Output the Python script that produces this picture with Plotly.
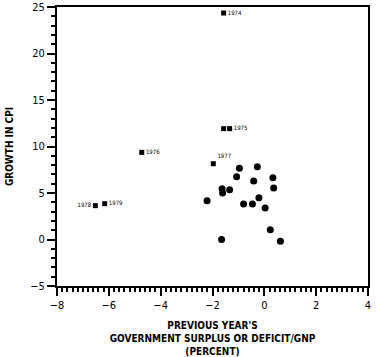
import plotly.graph_objects as go

# Unlabeled observations (deficit/GNP %, CPI growth %)
deficit = [-2.21, -1.65, -1.63, -1.61, -1.34, -1.07, -0.96, -0.80, -0.46, -0.41,
           -0.27, -0.21, 0.03, 0.23, 0.33, 0.36, 0.62]
cpi = [4.18, 0.0, 5.47, 5.0, 5.36, 6.76, 7.65, 3.82, 3.82, 6.29,
       7.83, 4.50, 3.39, 1.06, 6.65, 5.54, -0.2]

# Labeled years
year_labels = ["1974", "", "1975", "1976", "1977", "1978", "1979"]
year_deficit = [-1.57, -1.57, -1.34, -4.73, -1.97, -6.52, -6.16]
year_cpi = [24.35, 11.92, 11.92, 9.37, 8.15, 3.64, 3.85]
year_pos = ["middle right", "middle right", "middle right", "middle right",
            "top right", "middle left", "middle right"]

X_RANGE = [-8, 4]
Y_RANGE = [-5, 25]

fig = go.Figure()
fig.add_trace(go.Scatter(
    x=deficit, y=cpi, mode="markers",
    marker=dict(color="black", size=7),
    showlegend=False, hoverinfo="skip"))
fig.add_trace(go.Scatter(
    x=year_deficit, y=year_cpi, mode="markers+text",
    text=year_labels, textposition=year_pos,
    textfont=dict(family="DejaVu Sans Condensed", size=6, color="black"),
    marker=dict(color="black", size=5, symbol="square"),
    showlegend=False, hoverinfo="skip"))

fig.update_layout(
    width=376, height=357,
    margin=dict(l=57, r=8, t=7, b=71, autoexpand=False),
    plot_bgcolor="white", paper_bgcolor="white",
    xaxis=dict(
        range=X_RANGE, dtick=2, tick0=-8, gridcolor="white",
        showline=True, linecolor="black", linewidth=2, mirror=True,
        ticks="outside", ticklen=8, tickwidth=2, tickcolor="black",
        tickfont=dict(size=11, family="DejaVu Sans Condensed", color="black"),
        minor=dict(dtick=0.2, ticks="outside", ticklen=4, tickcolor="black"),
        automargin=False,
        title=dict(
            text="<b>PREVIOUS YEAR'S<br>GOVERNMENT SURPLUS OR DEFICIT/GNP<br>(PERCENT)</b>",
            font=dict(size=10, family="DejaVu Sans Condensed", color="black")),
    ),
    yaxis=dict(
        range=Y_RANGE, dtick=5, tick0=-5, gridcolor="white",
        showline=True, linecolor="black", linewidth=2, mirror=True,
        ticks="outside", ticklen=8, tickwidth=2, tickcolor="black",
        tickfont=dict(size=11, family="DejaVu Sans Condensed", color="black"),
        minor=dict(dtick=1, ticks="outside", ticklen=4, tickcolor="black"),
        automargin=False,
        title=dict(text="<b>GROWTH IN CPI</b>",
                   font=dict(size=10, family="DejaVu Sans Condensed", color="black")),
    ),
)

fig.write_html("out.html")
